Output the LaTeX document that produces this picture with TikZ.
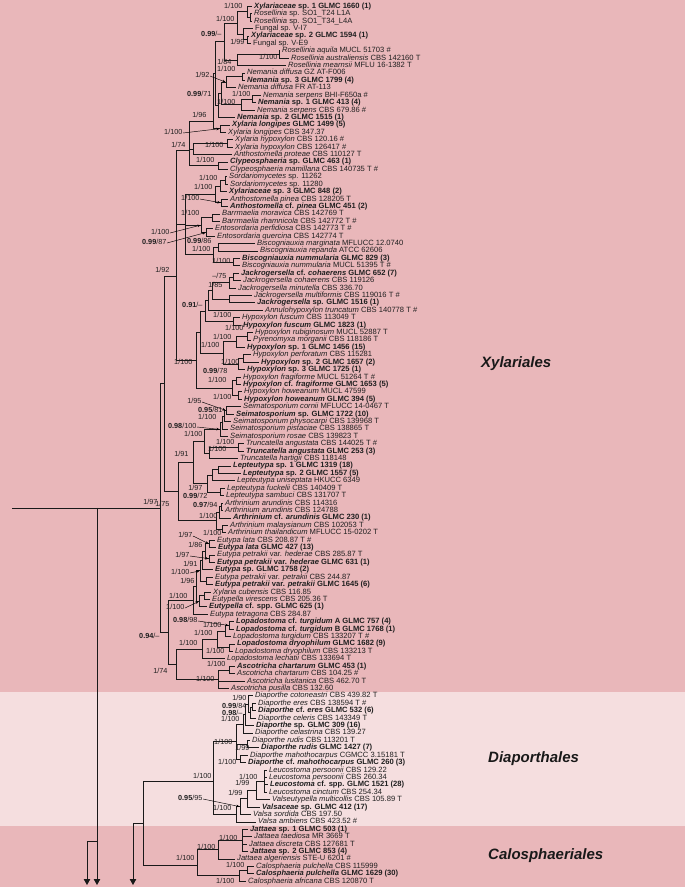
\documentclass[tikz,border=0pt]{standalone}
\usepackage{fontspec}
\setmainfont{Liberation Sans}
\usetikzlibrary{arrows.meta,calc}
\definecolor{bandA}{RGB}{233,183,186}
\definecolor{bandB}{RGB}{245,222,223}
\newcommand\I[1]{\textit{#1}}
\newcommand\lfont{\fontsize{7.6}{8}\selectfont}
\newcommand\sfont{\fontsize{7.3}{8}\selectfont}
\newcommand\lf[3]{\node[leaf] (L#1) at ({#2-2},{6.3+(#1-1)*7.415}) {#3};}
\newcommand\cl[5]{%
  \path let \p1=(#3), \p2=(#4) in ({#2pt},{0.5*\y1+0.5*\y2}) coordinate (#1);
  \foreach \kid in {#3,#4#5}{\draw[br] (#1) |- (\kid);}}
\newcommand\clp[4]{%
  \coordinate (#1) at (#2,#3);
  \foreach \kid in {#4}{\draw[br] (#1) |- (\kid);}}
\newcommand\sv[4]{\node[sup] (#1) at (#2,#3) {#4};}
\newcommand\sa[2]{\draw[sarr] (#1.east) -- (#2);}
\begin{document}
\begin{tikzpicture}[x=1pt,y=-1pt,
  br/.style={line width=0.85pt,draw=black!90},
  leaf/.style={anchor=west,inner xsep=2pt,inner ysep=0pt,text height=5.5pt,text depth=1.6pt,font=\lfont,text=black!88},
  sup/.style={anchor=east,inner sep=0.3pt,text height=5.2pt,text depth=1.4pt,font=\sfont,text=black!88},
  sarr/.style={line width=0.45pt,-{Stealth[length=3pt,width=2.6pt]},shorten >=0.6pt},
  tip/.style={-{Triangle[length=6pt,width=6.5pt]}},
  ordlab/.style={anchor=west,inner sep=0pt,font=\fontsize{15}{18}\selectfont\bfseries\itshape,text=black!90}]
\useasboundingbox (0,0) rectangle (685,887);
\fill[bandA] (0,0) rectangle (685,692);
\fill[bandB] (0,692) rectangle (685,826);
\fill[bandA] (0,826) rectangle (685,887);
% leaves
\lf{1}{254}{\bfseries\I{Xylariaceae} sp. 1 GLMC 1660 (1)}
\lf{2}{254}{\I{Rosellinia} sp. SO1\_T24 L1A}
\lf{3}{254}{\I{Rosellinia} sp. SO1\_T34\_L4A}
\lf{4}{255}{Fungal sp. V-I7}
\lf{5}{251}{\bfseries\I{Xylariaceae} sp. 2 GLMC 1594 (1)}
\lf{6}{253}{Fungal sp. V-E9}
\lf{7}{282}{\I{Rosellinia aquila} MUCL 51703 \#}
\lf{8}{291}{\I{Rosellinia australiensis} CBS 142160 T}
\lf{9}{288}{\I{Rosellinia mearnsii} MFLU 16-1382 T}
\lf{10}{247}{\I{Nemania diffusa} GZ AT-F006}
\lf{11}{247}{\bfseries\I{Nemania} sp. 3 GLMC 1799 (4)}
\lf{12}{238}{\I{Nemania diffusa} FR AT-113}
\lf{13}{263}{\I{Nemania serpens} BHI-F650a \#}
\lf{14}{258}{\bfseries\I{Nemania} sp. 1 GLMC 413 (4)}
\lf{15}{257}{\I{Nemania serpens} CBS 679.86 \#}
\lf{16}{237}{\bfseries\I{Nemania} sp. 2 GLMC 1515 (1)}
\lf{17}{232}{\bfseries\I{Xylaria longipes} GLMC 1499 (5)}
\lf{18}{228}{\I{Xylaria longipes} CBS 347.37}
\lf{19}{235}{\I{Xylaria hypoxylon} CBS 120.16 \#}
\lf{20}{235}{\I{Xylaria hypoxylon} CBS 126417 \#}
\lf{21}{234}{\I{Anthostomella proteae} CBS 110127 T}
\lf{22}{230}{\bfseries\I{Clypeosphaeria} sp. GLMC 463 (1)}
\lf{23}{230}{\I{Clypeosphaeria mamillana} CBS 140735 T \#}
\lf{24}{229}{\I{Sordariomycetes} sp. 11262}
\lf{25}{230}{\I{Sordariomycetes} sp. 11280}
\lf{26}{229}{\bfseries\I{Xylariaceae} sp. 3 GLMC 848 (2)}
\lf{27}{230}{\I{Anthostomella pinea} CBS 128205 T}
\lf{28}{230}{\bfseries\I{Anthostomella} cf. \I{pinea} GLMC 451 (2)}
\lf{29}{222}{\I{Barrmaelia moravica} CBS 142769 T}
\lf{30}{222}{\I{Barrmaelia rhamnicola} CBS 142772 T \#}
\lf{31}{215}{\I{Entosordaria perfidiosa} CBS 142773 T \#}
\lf{32}{217}{\I{Entosordaria quercina} CBS 142774 T}
\lf{33}{257}{\I{Biscogniauxia marginata} MFLUCC 12.0740}
\lf{34}{260}{\I{Biscogniauxia repanda} ATCC 62606}
\lf{35}{242}{\bfseries\I{Biscogniauxia nummularia} GLMC 829 (3)}
\lf{36}{242}{\I{Biscogniauxia nummularia} MUCL 51395 T \#}
\lf{37}{241}{\bfseries\I{Jackrogersella} cf. \I{cohaerens} GLMC 652 (7)}
\lf{38}{243}{\I{Jackrogersella cohaerens} CBS 119126}
\lf{39}{238}{\I{Jackrogersella minutella} CBS 336.70}
\lf{40}{254}{\I{Jackrogersella multiformis} CBS 119016 T \#}
\lf{41}{257}{\bfseries\I{Jackrogersella} sp. GLMC 1516 (1)}
\lf{42}{265}{\I{Annulohypoxylon truncatum} CBS 140778 T \#}
\lf{43}{242}{\I{Hypoxylon fuscum} CBS 113049 T}
\lf{44}{243}{\bfseries\I{Hypoxylon fuscum} GLMC 1823 (1)}
\lf{45}{255}{\I{Hypoxylon rubiginosum} MUCL 52887 T}
\lf{46}{253}{\I{Pyrenomyxa morganii} CBS 118186 T}
\lf{47}{247}{\bfseries\I{Hypoxylon} sp. 1 GLMC 1456 (15)}
\lf{48}{253}{\I{Hypoxylon perforatum} CBS 115281}
\lf{49}{261}{\bfseries\I{Hypoxylon} sp. 2 GLMC 1657 (2)}
\lf{50}{247}{\bfseries\I{Hypoxylon} sp. 3 GLMC 1725 (1)}
\lf{51}{243}{\I{Hypoxylon fragiforme} MUCL 51264 T \#}
\lf{52}{243}{\bfseries\I{Hypoxylon} cf. \I{fragiforme} GLMC 1653 (5)}
\lf{53}{244}{\I{Hypoxylon howeanum} MUCL 47599}
\lf{54}{244}{\bfseries\I{Hypoxylon howeanum} GLMC 394 (5)}
\lf{55}{243}{\I{Seimatosporium cornii} MFLUCC 14-0467 T}
\lf{56}{236}{\bfseries\I{Seimatosporium} sp. GLMC 1722 (10)}
\lf{57}{233}{\I{Seimatosporium physocarpi} CBS 139968 T}
\lf{58}{230}{\I{Seimatosporium pistaciae} CBS 138865 T}
\lf{59}{230}{\I{Seimatosporium rosae} CBS 139823 T}
\lf{60}{246}{\I{Truncatella angustata} CBS 144025 T \#}
\lf{61}{246}{\bfseries\I{Truncatella angustata} GLMC 253 (3)}
\lf{62}{240}{\I{Truncatella hartigii} CBS 118148}
\lf{63}{233}{\bfseries\I{Lepteutypa} sp. 1 GLMC 1319 (18)}
\lf{64}{243}{\bfseries\I{Lepteutypa} sp. 2 GLMC 1557 (5)}
\lf{65}{237}{\I{Lepteutypa uniseptata} HKUCC 6349}
\lf{66}{227}{\I{Lepteutypa fuckelii} CBS 140409 T}
\lf{67}{226}{\I{Lepteutypa sambuci} CBS 131707 T}
\lf{68}{225}{\I{Arthrinium arundinis} CBS 114316}
\lf{69}{225}{\I{Arthrinium arundinis} CBS 124788}
\lf{70}{233}{\bfseries\I{Arthrinium} cf. \I{arundinis} GLMC 230 (1)}
\lf{71}{230}{\I{Arthrinium malaysianum} CBS 102053 T}
\lf{72}{228}{\I{Arthrinium thailandicum} MFLUCC 15-0202 T}
\lf{73}{217}{\I{Eutypa lata} CBS 208.87 T \#}
\lf{74}{218}{\bfseries\I{Eutypa lata} GLMC 427 (13)}
\lf{75}{217}{\I{Eutypa petrakii} var. \I{hederae} CBS 285.87 T}
\lf{76}{217}{\bfseries\I{Eutypa petrakii} var. \I{hederae} GLMC 631 (1)}
\lf{77}{215}{\bfseries\I{Eutypa} sp. GLMC 1758 (2)}
\lf{78}{215}{\I{Eutypa petrakii} var. \I{petrakii} CBS 244.87}
\lf{79}{215}{\bfseries\I{Eutypa petrakii} var. \I{petrakii} GLMC 1645 (6)}
\lf{80}{213}{\I{Xylaria cubensis} CBS 116.85}
\lf{81}{212}{\I{Eutypella virescens} CBS 205.36 T}
\lf{82}{209}{\bfseries\I{Eutypella} cf. spp. GLMC 625 (1)}
\lf{83}{210}{\I{Eutypa tetragona} CBS 284.87}
\lf{84}{236}{\bfseries\I{Lopadostoma} cf. \I{turgidum} A GLMC 757 (4)}
\lf{85}{236}{\bfseries\I{Lopadostoma} cf. \I{turgidum} B GLMC 1768 (1)}
\lf{86}{233}{\I{Lopadostoma turgidum} CBS 133207 T \#}
\lf{87}{237}{\bfseries\I{Lopadostoma dryophilum} GLMC 1682 (9)}
\lf{88}{235}{\I{Lopadostoma dryophilum} CBS 133213 T}
\lf{89}{227}{\I{Lopadostoma lechatii} CBS 133694 T}
\lf{90}{237}{\bfseries\I{Ascotricha chartarum} GLMC 453 (1)}
\lf{91}{237}{\I{Ascotricha chartarum} CBS 104.25 \#}
\lf{92}{247}{\I{Ascotricha lusitanica} CBS 462.70 T}
\lf{93}{231}{\I{Ascotricha pusilla} CBS 132.60}
\lf{94}{255}{\I{Diaporthe cotoneastri} CBS 439.82 T}
\lf{95}{258}{\I{Diaporthe eres} CBS 138594 T \#}
\lf{96}{258}{\bfseries\I{Diaporthe} cf. \I{eres} GLMC 532 (6)}
\lf{97}{258}{\I{Diaporthe celeris} CBS 143349 T}
\lf{98}{256}{\bfseries\I{Diaporthe} sp. GLMC 309 (16)}
\lf{99}{255}{\I{Diaporthe celastrina} CBS 139.27}
\lf{100}{252}{\I{Diaporthe rudis} CBS 113201 T}
\lf{101}{261}{\bfseries\I{Diaporthe rudis} GLMC 1427 (7)}
\lf{102}{250}{\I{Diaporthe mahothocarpus} CGMCC 3.15181 T}
\lf{103}{248}{\bfseries\I{Diaporthe} cf. \I{mahothocarpus} GLMC 260 (3)}
\lf{104}{269}{\I{Leucostoma persoonii} CBS 129.22}
\lf{105}{269}{\I{Leucostoma persoonii} CBS 260.34}
\lf{106}{270}{\bfseries\I{Leucostoma} cf. spp. GLMC 1521 (28)}
\lf{107}{269}{\I{Leucostoma cinctum} CBS 254.34}
\lf{108}{272}{\I{Valseutypella multicollis} CBS 105.89 T}
\lf{109}{262}{\bfseries\I{Valsaceae} sp. GLMC 412 (17)}
\lf{110}{253}{\I{Valsa sordida} CBS 197.50}
\lf{111}{258}{\I{Valsa ambiens} CBS 423.52 \#}
\lf{112}{250}{\bfseries\I{Jattaea} sp. 1 GLMC 503 (1)}
\lf{113}{254}{\I{Jattaea taediosa} MR 3669 T}
\lf{114}{249}{\I{Jattaea discreta} CBS 127681 T}
\lf{115}{250}{\bfseries\I{Jattaea} sp. 2 GLMC 853 (4)}
\lf{116}{237}{\I{Jattaea algeriensis} STE-U 6201 \#}
\lf{117}{256}{\I{Calosphaeria pulchella} CBS 115999}
\lf{118}{256}{\bfseries\I{Calosphaeria pulchella} GLMC 1629 (30)}
\lf{119}{248}{\I{Calosphaeria africana} CBS 120870 T}
% clades: Xylariaceae s.l.
\cl{RA2}{250}{L2}{L3}{}
\cl{RA}{247}{L1}{RA2}{}
\cl{RC2}{247}{L5}{L6}{}
\cl{RC}{243}{L4}{RC2}{}
\cl{RB}{237}{RA}{RC}{}
\cl{RR2}{279}{L7}{L8}{}
\cl{RR}{237}{RR2}{L9}{}
\cl{RD}{224}{RB}{RR}{}
\cl{N1}{242}{L10}{L11}{}
\cl{N2}{226}{N1}{L12}{}
\cl{N3}{252}{L13}{L14}{}
\cl{N4}{241}{N3}{L15}{}
\cl{N5}{221}{N2}{N4}{}
\cl{NEM}{218}{N5}{L16}{}
\cl{X215}{215}{RD}{NEM}{}
\cl{XL}{220}{L17}{L18}{}
\clp{X213}{213}{121}{X215,XL}
\cl{XH1}{227}{L19}{L20}{}
\cl{XH}{193}{XH1}{L21}{}
\cl{CL}{218}{L22}{L23}{}
\clp{X189}{189}{150}{X213,XH,CL}
\cl{S1}{225}{L24}{L25}{}
\cl{S2}{220}{S1}{L26}{}
\cl{AP}{221}{L27}{L28}{}
\cl{S3}{215}{S2}{AP}{}
\cl{BA}{212}{L29}{L30}{}
\cl{EN}{206}{L31}{L32}{}
\cl{BE}{201}{BA}{EN}{}
\cl{BM}{218}{L33}{L34}{}
\cl{BN}{233}{L35}{L36}{}
\cl{BI}{213}{BM}{BN}{}
\cl{X185}{185}{S3}{BI}{,BE}
% Hypoxylaceae
\cl{JK1}{233}{L37}{L38}{}
\cl{JK2}{229}{JK1}{L39}{}
\cl{JK3}{229}{L40}{L41}{}
\cl{JK}{212}{JK2}{JK3}{}
\cl{JA}{208}{JK}{L42}{}
\cl{HF}{233}{L43}{L44}{}
\cl{JAF}{205}{JA}{HF}{}
\cl{H1a}{247}{L45}{L46}{}
\cl{H1}{236}{H1a}{L47}{}
\cl{H2a}{243}{L48}{L49}{}
\cl{H2}{238}{H2a}{L50}{}
\cl{H12}{223}{H1}{H2}{}
\cl{FR}{236}{L51}{L52}{}
\cl{HW}{238}{L53}{L54}{}
\cl{FH}{232}{FR}{HW}{}
\cl{X200}{200}{JAF}{H12}{}
\cl{X196}{196}{X200}{FH}{}
\clp{X176}{176}{276}{X189,X185,X196}
% Sporocadaceae, Apiosporaceae
\cl{SM1}{226}{L55}{L56}{}
\cl{SM2}{224}{SM1}{L57}{}
\cl{SM3}{222}{SM2}{L58}{}
\cl{SM}{220}{SM3}{L59}{}
\cl{TR1}{238}{L60}{L61}{}
\cl{TR}{209}{TR1}{L62}{}
\cl{ST}{204}{SM}{TR}{}
\cl{LpA}{218}{L63}{L64}{}
\cl{LpB}{212}{LpA}{L65}{}
\cl{LpC}{220}{L66}{L67}{}
\cl{Lp}{207}{LpB}{LpC}{}
\cl{SPO}{193}{ST}{Lp}{}
\cl{AR1}{221}{L68}{L69}{}
\cl{AR2}{219}{AR1}{L70}{}
\cl{AR3}{222}{L71}{L72}{}
\cl{AR}{216}{AR2}{AR3}{}
\cl{X178}{178}{SPO}{AR}{}
\cl{X164}{164}{X176}{X178}{}
% Diatrypaceae, Lopadostomataceae, Ascotricha
\cl{EL}{209}{L73}{L74}{}
\cl{EH}{209}{L75}{L76}{}
\cl{E1}{205}{EL}{EH}{}
\cl{E2}{202}{E1}{L77}{}
\cl{EP}{206}{L78}{L79}{}
\cl{E3}{200}{E2}{EP}{}
\cl{EV}{204}{L80}{L81}{}
\cl{E4}{199}{EV}{L82}{}
\cl{E5}{196}{E3}{E4}{}
\cl{DIAT}{193}{E5}{L83}{}
\cl{LT1}{229}{L84}{L85}{}
\cl{LT2}{225}{LT1}{L86}{}
\cl{LD}{229}{L87}{L88}{}
\cl{LTD}{217}{LT2}{LD}{}
\cl{Lop}{202}{LTD}{L89}{}
\cl{AC}{229}{L90}{L91}{}
\cl{Asc}{218}{AC}{L93}{,L92}
\cl{X176b}{176}{Lop}{Asc}{}
\cl{X168}{168}{DIAT}{X176b}{}
\cl{X160}{160}{X164}{X168}{}
% Diaporthales
\cl{Da1}{252}{L95}{L96}{}
\cl{Da2}{250}{Da1}{L97}{}
\cl{Da3}{248}{L94}{Da2}{}
\cl{Da4}{245}{Da3}{L98}{}
\cl{Db}{243}{Da4}{L99}{}
\cl{DR}{247}{L100}{L101}{}
\cl{DM}{240}{L102}{L103}{}
\cl{DD}{236}{Db}{DM}{,DR}
\cl{LP}{264}{L104}{L107}{,L105,L106}
\cl{LPV}{256}{LP}{L108}{}
\cl{LV}{247}{LPV}{L109}{}
\cl{VA}{240}{LV}{L110}{}
\cl{VV}{236}{VA}{L111}{}
\clp{Diap}{213}{781}{DD,VV}
% Calosphaeriales
\cl{JT1}{242}{L112}{L115}{,L113,L114}
\cl{JT}{218}{JT1}{L116}{}
\cl{CP}{247}{L117}{L118}{}
\cl{CA}{239}{CP}{L119}{}
\clp{Cal}{197}{865}{JT,CA}
\cl{DC}{143}{Diap}{Cal}{}
% stems leaving the figure
\path let \p1=(X160) in (12pt,\y1) coordinate (st0) (97pt,\y1) coordinate (st97);
\draw[br] (st0) -- (X160);
\coordinate (e97) at (97,885);
\draw[br,tip] (st97) -- (e97);
\coordinate (j97) at (97,841);
\coordinate (e87) at (87,885);
\draw[br,tip] (j97) -| (e87);
\path let \p1=(DC) in (133pt,\y1) coordinate (st133);
\draw[br] (st133) -- (DC);
\coordinate (e133) at (133,885);
\draw[br,tip] (st133) -- (e133);
% support values
\sv{s1}{243}{7}{1/100}
\sv{s2}{235}{20}{1/100}
\sv{s3}{245}{43}{1/99}
\sv{s4}{222}{35}{\textbf{0.99}/–}
\sv{s5}{278}{58}{1/100}
\sv{s6}{232}{63}{1/84}
\sv{s7}{236}{70}{1/100}
\sv{s8}{210}{76}{1/92}\sa{s8}{N2}
\sv{s9}{212}{95}{\textbf{0.99}/71}
\sv{s10}{251}{94.8}{1/100}
\sv{s11}{236}{102.3}{1/100}
\sv{s12}{207}{116}{1/96}
\sv{s13}{183}{133}{1/100}\sa{s13}{XL}
\sv{s14}{224}{146}{1/100}
\sv{s15}{186}{146}{1/74}
\sv{s16}{215}{161}{1/100}
\sv{s17}{218}{179}{1/100}
\sv{s18}{213}{188}{1/100}
\sv{s19}{200}{199}{1/100}\sa{s19}{AP}
\sv{s20}{200}{214}{1/100}
\sv{s21}{170}{233}{1/100}\sa{s21}{BE}
\sv{s22}{167}{243}{\textbf{0.99}/87}\sa{s22}{EN}
\sv{s23}{212}{242}{\textbf{0.99}/86}
\sv{s24}{211}{250}{1/100}
\sv{s25}{231}{262}{1/100}
\sv{s26}{170}{271}{1/92}
\sv{s27}{227}{277}{–/75}
\sv{s28}{223}{286}{1/85}
\sv{s29}{203}{306}{\textbf{0.91}/–}
\sv{s30}{232}{316}{1/100}
\sv{s31}{244}{329}{1/100}
\sv{s32}{232}{338}{1/100}
\sv{s33}{220}{346}{1/100}
\sv{s34}{240}{363}{1/100}
\sv{s35}{193}{363}{1/100}
\sv{s36}{228}{372}{\textbf{0.99}/78}
\sv{s37}{227}{381}{1/100}
\sv{s38}{232}{398}{1/100}
\sv{s39}{202}{402}{1/95}\sa{s39}{SM1}
\sv{s40}{223}{411}{\textbf{0.95}/81}
\sv{s41}{217}{418}{1/100}
\sv{s42}{197}{427}{\textbf{0.98}/100}\sa{s42}{SM}
\sv{s43}{203}{435}{1/100}
\sv{s44}{235}{443}{1/100}
\sv{s45}{227}{450}{1/100}
\sv{s46}{189}{455}{1/91}
\sv{s47}{203}{489}{1/97}
\sv{s48}{208}{497}{\textbf{0.99}/72}
\sv{s49}{158}{503}{1/97}
\sv{s50}{170}{505}{1/75}
\sv{s51}{218}{506}{\textbf{0.97}/94}
\sv{s52}{218}{517}{1/100}
\sv{s53}{193}{536}{1/97}\sa{s53}{EL}
\sv{s54}{222}{534}{1/100}
\sv{s55}{203}{546}{1/86}
\sv{s56}{190}{556}{1/97}\sa{s56}{EH}
\sv{s57}{198}{565}{1/91}
\sv{s58}{190}{573}{1/100}\sa{s58}{E3}
\sv{s59}{195}{582}{1/96}
\sv{s60}{188}{597}{1/100}
\sv{s61}{185}{608}{1/100}\sa{s61}{E4}
\sv{s62}{198}{621}{\textbf{0.98}/98}\sa{s62}{LT1}
\sv{s63}{222}{626}{1/100}
\sv{s64}{213}{634}{1/100}
\sv{s65}{160}{637}{\textbf{0.94}/–}
\sv{s66}{198}{644}{1/100}
\sv{s67}{225}{652}{1/100}
\sv{s68}{226}{665}{1/100}
\sv{s69}{168}{672}{1/74}
\sv{s70}{215}{680}{1/100}
\sv{s71}{247}{699}{1/90}
\sv{s72}{247}{707}{\textbf{0.99}/84}
\sv{s73}{243}{714}{\textbf{0.98}/–}
\sv{s74}{240}{720}{1/100}
\sv{s75}{233}{743}{1/100}
\sv{s76}{250}{749}{1/99}
\sv{s77}{237}{763}{1/100}
\sv{s78}{212}{777}{1/100}
\sv{s79}{258}{778}{1/100}
\sv{s80}{250}{784}{1/99}
\sv{s81}{243}{794}{1/99}
\sv{s82}{203}{799}{\textbf{0.95}/95}\sa{s82}{VA}
\sv{s83}{232}{809}{1/100}
\sv{s84}{238}{839}{1/100}
\sv{s85}{216}{848}{1/100}
\sv{s86}{195}{859}{1/100}
\sv{s87}{245}{866}{1/100}
\sv{s88}{235}{882}{1/100}
% order names
\node[ordlab] (oX) at (481,364) {Xylariales};
\node[ordlab] (oD) at (488,759) {Diaporthales};
\node[ordlab] (oC) at (488,856) {Calosphaeriales};
\end{tikzpicture}
\end{document}
